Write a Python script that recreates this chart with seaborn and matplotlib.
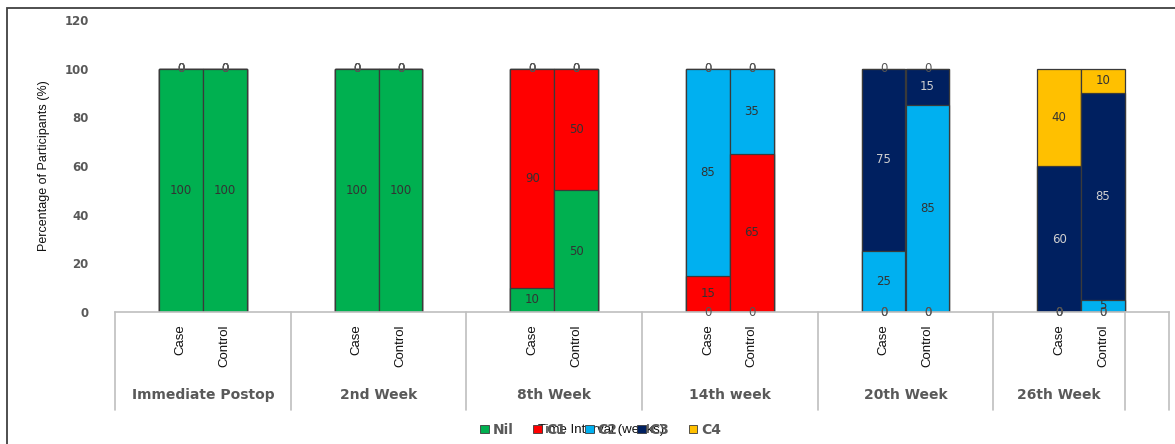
import matplotlib
matplotlib.use("Agg")
import matplotlib.pyplot as plt
import seaborn as sns
import numpy as np
import pandas as pd
from matplotlib.patches import Rectangle

# ---------------- data ----------------
groups = ["Immediate Postop", "2nd Week", "8th Week", "14th week", "20th Week", "26th Week"]
subgroups = ["Case", "Control"]
series = ["Nil", "C1", "C2", "C3", "C4"]
nil = [100, 100, 100, 100, 10, 50, 0, 0, 0, 0, 0, 0]
c1 = [0, 0, 0, 0, 90, 50, 15, 65, 0, 0, 0, 0]
c2 = [0, 0, 0, 0, 0, 0, 85, 35, 25, 85, 0, 5]
c3 = [0, 0, 0, 0, 0, 0, 0, 0, 75, 15, 60, 85]
c4 = [0, 0, 0, 0, 0, 0, 0, 0, 0, 0, 40, 10]
y_ticks = [0, 20, 40, 60, 80, 100, 120]
y_label = "Percentage of Participants (%)"
legend_title = "Time Interval (weeks)"

# ---------------- style ----------------
colors = ["#00B050", "#FF0000", "#00B0F0", "#002060", "#FFC000"]
label_colors = ["#333333", "#333333", "#333333", "#D0D0D0", "#333333"]
sns.set_theme(style="white")
plt.rcParams["font.family"] = ["DejaVu Sans"]
narrow = ["Liberation Sans Narrow", "Liberation Sans", "DejaVu Sans"]

values = np.array([nil, c1, c2, c3, c4], dtype=float)
cum = np.cumsum(values, axis=0)
half = 0.125
pos = [g + (-half if s == 0 else half) for g in range(len(groups)) for s in range(len(subgroups))]
df = pd.DataFrame({"pos": pos})
for k in range(len(series)):
    df[f"cum{k}"] = cum[k]

W, H = 1175, 444
fig = plt.figure(figsize=(W / 100, H / 100), dpi=100)
ax = fig.add_axes([115 / W, 132 / H, 1054 / W, 292 / H])

for k in reversed(range(len(series))):
    sns.barplot(data=df, x="pos", y=f"cum{k}", native_scale=True, color=colors[k],
                saturation=1, width=1.0, edgecolor="#3a3a3a", linewidth=0.9,
                errorbar=None, ax=ax)

# value labels
for i, p in enumerate(pos):
    for k in range(len(series)):
        v = values[k, i]
        bottom = cum[k, i] - v
        ax.text(p, bottom + v / 2, f"{int(v)}", ha="center", va="center",
                fontsize=8.5, color=label_colors[k] if v > 0 else "#555555", zorder=5)

ax.set_xlim(-0.5, len(groups) - 0.5)
ax.set_ylim(0, 120)
ax.set_yticks(y_ticks)
ax.set_yticklabels([str(t) for t in y_ticks], fontsize=8.5, fontweight="bold", color="#595959")
ax.set_xticks(pos)
ax.set_xticklabels(subgroups * len(groups), rotation=90, fontsize=9.5,
                   family=narrow, color="#111111")
ax.tick_params(axis="x", length=0, pad=9)
ax.tick_params(axis="y", length=0, pad=19)
ax.set_xlabel("")
ax.set_ylabel(y_label, fontsize=9, family=narrow, color="#111111", labelpad=10)
for s in ["left", "top", "right"]:
    ax.spines[s].set_visible(False)
ax.spines["bottom"].set_color("#BFBFBF")
ax.spines["bottom"].set_linewidth(1.2)

# multi-level category box lines
bounds = [g - 0.5 for g in range(len(groups))] + [len(groups) - 1 + 2 * half, len(groups) - 0.5]
trans = ax.get_xaxis_transform()
ybot = -(410 - 312) / 292
for b in bounds:
    ax.plot([b, b], [0, ybot], transform=trans, color="#BFBFBF", lw=1.2, clip_on=False)
for i, g in enumerate(groups):
    xc = (bounds[i] + bounds[i + 1]) / 2
    ax.text(xc, -(395 - 312) / 292, g, transform=trans, ha="center", va="center",
            fontsize=10, fontweight="bold", color="#595959")

# legend
handles = [Rectangle((0, 0), 1, 1, facecolor=c, edgecolor="#3a3a3a", lw=0.6) for c in colors]
fig.legend(handles, series, loc="center", bbox_to_anchor=(601 / W, 1 - 430 / H), ncol=5,
           frameon=False, prop=dict(weight="bold", size=10), labelcolor="#595959",
           handlelength=0.6, handleheight=0.55, handletextpad=0.3, columnspacing=1.4)
fig.text(601 / W, 1 - 430 / H, legend_title, ha="center", va="center", fontsize=9.5,
         family=["Liberation Sans", "DejaVu Sans"], color="#111111")

# outer border
fig.add_artist(Rectangle((7 / W, -0.05), 1.2, 1 - 8 / H + 0.05, transform=fig.transFigure,
                         fill=False, edgecolor="#404040", lw=1.3))

fig.savefig("out.png", dpi=100)
